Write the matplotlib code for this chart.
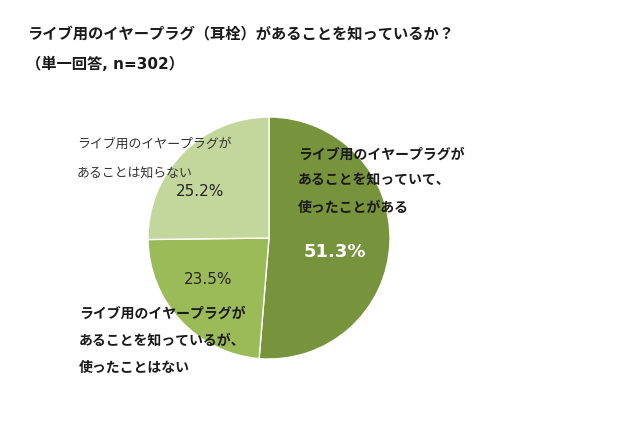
import matplotlib
matplotlib.use('Agg')
import matplotlib.pyplot as plt

plt.rcParams['font.family'] = ['Noto Sans CJK JP', 'DejaVu Sans']

# data
values = [51.3, 23.5, 25.2]
labels = ['ライブ用のイヤープラグが\nあることを知っていて、\n使ったことがある',
          'ライブ用のイヤープラグが\nあることを知っているが、\n使ったことはない',
          'ライブ用のイヤープラグが\nあることは知らない']
colors = ['#77933C', '#9BBB59', '#C3D69B']
title = 'ライブ用のイヤープラグ（耳栓）があることを知っているか？\n（単一回答, n=302）'

W, H = 640, 438
fig = plt.figure(figsize=(W / 100, H / 100), dpi=100)

def px(x, y):
    return x / W, 1 - y / H

# pie axes: center (269, 238), radius 121 px
r = 121
ax = fig.add_axes([(269 - r) / W, (H - 238 - r) / H, 2 * r / W, 2 * r / H])
ax.pie(values, colors=colors, startangle=90, counterclock=False,
       wedgeprops=dict(edgecolor='white', linewidth=1))
ax.set_xlim(-1, 1)
ax.set_ylim(-1, 1)
ax.set_aspect('equal')
ax.axis('off')

fig.text(*px(27, 33), title.split('\n')[0], fontsize=11, fontweight='bold',
         va='center', ha='left', color='#1a1a1a')
fig.text(*px(26, 64), title.split('\n')[1], fontsize=11, fontweight='bold',
         va='center', ha='left', color='#1a1a1a',
         family=['DejaVu Sans', 'Noto Sans CJK JP'])

# category labels
fig.text(*px(298, 181), labels[0], fontsize=10, fontweight='bold', va='center',
         ha='left', linespacing=2.15, color='#1a1a1a')
fig.text(*px(79, 341), labels[1], fontsize=10, fontweight='bold', va='center',
         ha='left', linespacing=2.2, color='#1a1a1a')
fig.text(*px(77, 159), labels[2], fontsize=9.3, va='center',
         ha='left', linespacing=2.65, color='#333333')

# percentages
fig.text(*px(335, 252), f'{values[0]}%', fontsize=13, fontweight='bold',
         color='white', ha='center', va='center', family='DejaVu Sans')
fig.text(*px(208, 280), f'{values[1]}%', fontsize=11, color='#262626',
         ha='center', va='center', family='DejaVu Sans')
fig.text(*px(200, 192), f'{values[2]}%', fontsize=11, color='#262626',
         ha='center', va='center', family='DejaVu Sans')

fig.savefig('out.png', dpi=100)
